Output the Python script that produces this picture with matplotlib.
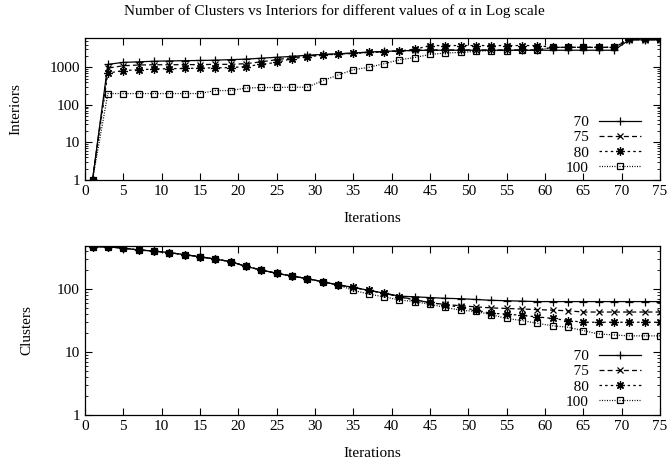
import numpy as np
import matplotlib
matplotlib.use('Agg')
import matplotlib.pyplot as plt
from matplotlib.ticker import FixedLocator, LogLocator, NullFormatter

plt.rcParams['font.family'] = ['Liberation Serif', 'DejaVu Serif']

# iterations (odd steps)
iters = list(range(1, 76, 2))

# Interiors per alpha value
int70 = [1, 1200, 1350, 1400, 1450, 1480, 1500, 1520, 1550, 1600,
         1650, 1750, 1850, 1950, 2100, 2200, 2300, 2400, 2550, 2650,
         2750, 2800, 2850, 2850, 2850, 2850, 2850, 2850, 2850, 2850,
         2850, 2850, 2850, 2850, 2850, 5400, 5400, 5400]
int75 = [1, 950, 1100, 1150, 1170, 1170, 1180, 1180, 1200, 1200,
         1250, 1400, 1600, 1800, 2000, 2150, 2250, 2400, 2500, 2600,
         2700, 2850, 2900, 2900, 2900, 2900, 2900, 2900, 2900, 2900,
         3400, 3400, 3400, 3400, 3400, 5400, 5400, 5400]
int80 = [1, 700, 820, 860, 900, 920, 930, 950, 970, 980,
         1050, 1200, 1350, 1700, 1900, 2100, 2250, 2350, 2500, 2600,
         2750, 3000, 3800, 3800, 3800, 3800, 3800, 3800, 3800, 3800,
         3400, 3400, 3400, 3400, 3400, 5600, 5600, 5600]
int100 = [1, 200, 200, 200, 200, 200, 200, 200, 240, 240,
          280, 290, 290, 295, 295, 440, 620, 860, 1000, 1240,
          1580, 1820, 2200, 2400, 2500, 2650, 2800, 2800, 2850, 2850,
          3400, 3400, 3400, 3400, 3400, 5900, 5900, 5900]

# Clusters per alpha value
common = [470, 465, 445, 415, 400, 377, 350, 325, 297, 272,
          228, 200, 177, 160, 146, 130, 116, 106, 95, 86]
clu70 = common + [77, 75, 73, 71, 70, 68, 66, 65, 64, 63,
                  63, 63, 63, 63, 63, 63, 63, 63]
clu75 = common + [75, 68, 60, 57, 54, 52, 50, 49, 48, 47,
                  46, 45, 43, 43, 43, 43, 43, 43]
clu80 = common + [75, 67, 61, 56, 51, 46, 41, 40, 38, 36,
                  34, 31.5, 29.6, 29.6, 29.6, 29.6, 29.6, 29.6]
clu100 = common[:17] + [95, 83, 75] + [67, 63, 57, 51, 46, 44, 39, 34,
                                       31.5, 28.5, 26, 24.7, 21.8, 19.3,
                                       18.6, 18, 18, 18]

labels = ['70', '75', '80', '100']
labels_padded = ['\u2007' + l if len(l) == 2 else l for l in labels]

styles = [
    dict(ls='-', marker='+', ms=6, lw=0.9),
    dict(ls=(0, (4, 2.5)), marker='x', ms=5, lw=0.9),
    dict(ls=(0, (2, 2.5)), marker=(8, 2, 0), ms=6, lw=0.9),
    dict(ls=(0, (0.8, 1.2)), marker='s', ms=5, mfc='none', lw=0.9),
]

fig = plt.figure(figsize=(6.68, 4.59), dpi=100)
ax1 = fig.add_axes([0.127, 0.608, 0.861, 0.309])
ax2 = fig.add_axes([0.127, 0.096, 0.861, 0.368])

panels = [
    (ax1, [int70, int75, int80, int100], 'Interiors', (1, 6000), [1, 10, 100, 1000],
     -0.225, -0.108, -0.007),
    (ax2, [clu70, clu75, clu80, clu100], 'Clusters', (1, 480), [1, 10, 100],
     -0.19, -0.090, 0.0),
]
for ax, series, ylab, ylim, yt, xlab_y, ylab_x, leg_y in panels:
    for s, lab, st in zip(series, labels_padded, styles):
        ax.plot(iters, s, color='black', mew=0.9, label=lab, **st)
    ax.set_yscale('log')
    ax.set_xlim(0, 75)
    ax.set_ylim(*ylim)
    ax.set_xticks(range(0, 76, 5))
    ax.yaxis.set_major_locator(FixedLocator(yt))
    ax.yaxis.set_minor_locator(LogLocator(subs=np.arange(2, 10)))
    ax.yaxis.set_minor_formatter(NullFormatter())
    ax.set_yticklabels([str(v) for v in yt])
    ax.tick_params(which='both', direction='in', top=True, right=True,
                   labelsize=11)
    ax.tick_params(which='major', length=5, width=0.8)
    ax.tick_params(which='minor', length=2.5, width=0.6)
    ax.set_xlabel('Iterations', fontsize=11)
    ax.set_ylabel(ylab, fontsize=11)
    ax.xaxis.set_label_coords(0.5, xlab_y)
    ax.yaxis.set_label_coords(ylab_x, 0.5)
    for sp in ax.spines.values():
        sp.set_linewidth(0.9)
    ax.legend(loc='lower right', bbox_to_anchor=(0.977, leg_y), frameon=False,
              markerfirst=False, fontsize=11, handlelength=2.75,
              handletextpad=0.65, labelspacing=0.1, borderaxespad=0.0)

fig.suptitle('Number of Clusters vs Interiors for different values of \u03b1 in Log scale',
             fontsize=11, y=0.99)

fig.savefig('out.png', dpi=100)
